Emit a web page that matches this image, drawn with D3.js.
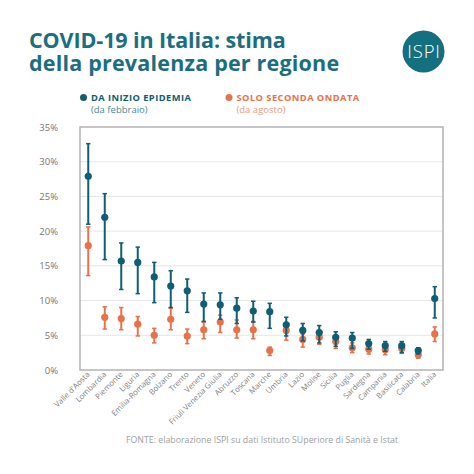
<!DOCTYPE html>
<html>
<head>
<meta charset="utf-8">
<script src="https://cdn.jsdelivr.net/npm/d3@7"></script>
<style>
  html, body { margin: 0; padding: 0; background: #fff; }
  svg { display: block; }
</style>
</head>
<body>
<script>
const categories = ["Valle d'Aosta","Lombardia","Piemonte","Liguria","Emilia-Romagna","Bolzano","Trento","Veneto","Friuli Venezia Giulia","Abruzzo","Toscana","Marche","Umbria","Lazio","Molise","Sicilia","Puglia","Sardegna","Campania","Basilicata","Calabria","Italia"];
// Da inizio epidemia (da febbraio)
const epiValue = [27.9,22.0,15.7,15.5,13.4,12.1,11.4,9.5,9.4,8.9,8.5,8.4,6.5,5.7,5.4,4.7,4.6,3.8,3.5,3.5,2.8,10.3];
const epiLow   = [21.0,15.9,11.6,11.0,9.7,9.0,8.3,7.0,7.3,6.7,6.9,6.0,4.9,4.2,3.9,3.4,3.1,3.0,2.7,2.5,2.3,7.5];
const epiHigh  = [32.6,25.4,18.3,17.7,15.5,14.3,13.1,11.1,11.1,10.4,9.9,9.6,7.6,6.7,6.4,5.5,5.4,4.4,4.1,4.1,3.2,12.0];
// Solo seconda ondata (da agosto)
const secValue = [17.9,7.6,7.4,6.6,5.0,7.3,4.9,5.8,6.9,5.8,5.8,2.8,5.7,4.4,4.7,4.1,3.2,3.0,2.9,3.1,2.2,5.2];
const secLow   = [13.6,5.9,5.8,4.9,3.9,5.8,3.8,4.5,5.4,4.6,4.5,2.1,4.3,3.3,3.7,3.1,2.5,2.3,2.2,2.4,1.7,4.1];
const secHigh  = [20.6,9.1,9.0,7.7,6.0,8.9,5.9,6.9,7.9,7.2,7.0,3.3,6.4,5.2,5.3,4.8,3.9,3.6,3.4,3.4,2.5,6.2];
const yTicks = [0,5,10,15,20,25,30,35];

const W = 474, H = 474;
const teal = "#0f5e73", orange = "#e8714a", titleCol = "#1b6e80";
const svg = d3.select("body").append("svg").attr("width", W).attr("height", H);

// Title
svg.append("text").attr("x", 29).attr("y", 47.5).attr("font-family", "Open Sans, sans-serif")
  .attr("font-weight", 700).attr("font-size", 21.5).attr("fill", titleCol).attr("letter-spacing", -0.1)
  .text("COVID-19 in Italia: stima");
svg.append("text").attr("x", 29).attr("y", 71).attr("font-family", "Open Sans, sans-serif")
  .attr("font-weight", 700).attr("font-size", 21.5).attr("fill", titleCol).attr("letter-spacing", 0.2)
  .text("della prevalenza per regione");

// Logo
svg.append("circle").attr("cx", 423.5).attr("cy", 51.5).attr("r", 21).attr("fill", "#14707f");
svg.append("text").attr("x", 424).attr("y", 58).attr("text-anchor", "middle")
  .attr("font-family", "Open Sans, sans-serif").attr("font-size", 18.5).attr("font-weight", 300)
  .attr("letter-spacing", 0.8).attr("fill", "#fff").text("ISPI");

// Legend
const legend = [
  {x: 83.5, col: teal, label: "DA INIZIO EPIDEMIA", sub: "(da febbraio)", subCol: "#4d8795"},
  {x: 229, col: orange, label: "SOLO SECONDA ONDATA", sub: "(da agosto)", subCol: "#eb9a7c"}
];
legend.forEach(l => {
  svg.append("circle").attr("cx", l.x).attr("cy", 97.5).attr("r", 3.5).attr("fill", l.col);
  svg.append("text").attr("x", l.x + 7.5).attr("y", 101).attr("font-family", "Open Sans, sans-serif")
    .attr("font-weight", 700).attr("font-size", 9.3).attr("letter-spacing", 0.45).attr("fill", l.col).text(l.label);
  svg.append("text").attr("x", l.x + 7.5).attr("y", 112.5).attr("font-family", "Open Sans, sans-serif")
    .attr("font-size", 9.5).attr("fill", l.subCol).text(l.sub);
});

// Plot
const pLeft = 80, pRight = 443, pTop = 127, pBottom = 370;
const x = d3.scaleBand().domain(categories).range([pLeft, pRight]).padding(0);
const y = d3.scaleLinear().domain([0, 35]).range([pBottom, pTop]);

// gridlines
svg.append("g").selectAll("line").data(yTicks.filter(t => t > 0 && t < 35)).join("line")
  .attr("x1", pLeft).attr("x2", pRight).attr("y1", d => y(d)).attr("y2", d => y(d))
  .attr("stroke", "#e6e6e6").attr("stroke-width", 1);

// y axis
const yAxis = svg.append("g").attr("transform", `translate(${pLeft - 22},0)`)
  .call(d3.axisLeft(y).tickValues(yTicks).tickFormat(d => d + "%").tickSize(0));
yAxis.select(".domain").remove();
yAxis.selectAll("text").attr("x", 0).attr("font-family", "Open Sans, sans-serif").attr("font-size", 9.5).attr("fill", "#777");

// x axis
const xAxis = svg.append("g").attr("transform", `translate(0,${pBottom})`)
  .call(d3.axisBottom(x).tickSize(0));
xAxis.select(".domain").remove();
xAxis.selectAll("text").attr("font-family", "Open Sans, sans-serif").attr("font-size", 7.8).attr("fill", "#808080")
  .attr("text-anchor", "end").attr("dy", null).attr("dx", null)
  .attr("transform", "translate(2,5) rotate(-45)").attr("y", 0).attr("x", 0);

// frame
svg.append("rect").attr("x", pLeft).attr("y", pTop).attr("width", pRight - pLeft).attr("height", pBottom - pTop)
  .attr("fill", "none").attr("stroke", "#b3b3b3").attr("stroke-width", 1.5);

function drawSeries(vals, lo, hi, col) {
  const g = svg.append("g");
  categories.forEach((c, i) => {
    const cx = x(c) + x.bandwidth() / 2;
    g.append("line").attr("x1", cx).attr("x2", cx).attr("y1", y(lo[i])).attr("y2", y(hi[i]))
      .attr("stroke", col).attr("stroke-width", 2);
    [lo[i], hi[i]].forEach(v => {
      g.append("line").attr("x1", cx - 2.2).attr("x2", cx + 2.2).attr("y1", y(v)).attr("y2", y(v))
        .attr("stroke", col).attr("stroke-width", 1.5);
    });
    g.append("circle").attr("cx", cx).attr("cy", y(vals[i])).attr("r", 3.6).attr("fill", col);
  });
}
drawSeries(secValue, secLow, secHigh, orange);
drawSeries(epiValue, epiLow, epiHigh, teal);

// footer
svg.append("text").attr("x", 262).attr("y", 443).attr("text-anchor", "middle")
  .attr("font-family", "Open Sans, sans-serif").attr("font-size", 8.8).attr("fill", "#a0a0a0")
  .text("FONTE: elaborazione ISPI su dati Istituto SUperiore di Sanità e Istat");
</script>
</body>
</html>
